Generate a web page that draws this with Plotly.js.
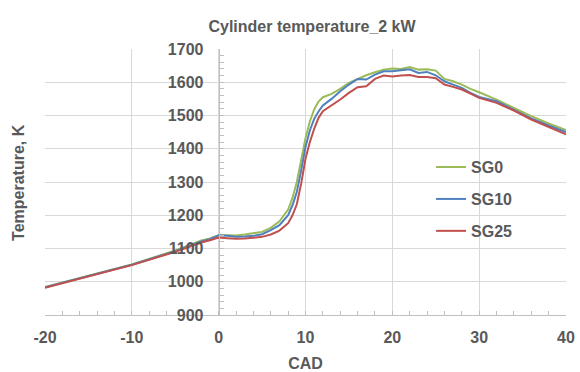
<!DOCTYPE html>
<html>
<head>
<meta charset="utf-8">
<script src="https://cdn.plot.ly/plotly-3.0.1.min.js"></script>
<style>html,body{margin:0;padding:0;background:#fff;}#chart{width:580px;height:372px;}</style>
</head>
<body>
<div id="chart"></div>
<script>
var cad  = [-20,-15,-10,-5,-3,-2,-1,0,1,2,3,4,5,6,7,8,8.5,9,9.5,10,10.5,11,11.5,12,13,14,15,16,17,18,19,20,21,22,23,24,25,26,27,28,29,30,32,34,36,38,40];
var sg0  = [984,1018,1052,1094,1115,1124,1130,1140,1140,1139,1142,1145,1150,1162,1182,1217,1252,1300,1362,1432,1482,1518,1542,1555,1565,1580,1598,1610,1621,1630,1638,1641,1640,1646,1638,1639,1635,1610,1603,1593,1580,1570,1548,1523,1498,1476,1456];
var sg10 = [983,1017,1051,1092,1112,1121,1128,1140,1138,1135,1136,1138,1143,1155,1170,1200,1230,1270,1335,1405,1455,1490,1512,1530,1550,1573,1593,1610,1608,1623,1633,1633,1636,1639,1628,1631,1621,1603,1593,1583,1568,1556,1543,1518,1491,1470,1450];
var sg25 = [982,1016,1050,1090,1110,1118,1125,1133,1131,1129,1130,1132,1135,1142,1154,1176,1200,1233,1295,1370,1420,1460,1493,1513,1530,1548,1568,1585,1588,1610,1620,1617,1620,1622,1616,1616,1612,1593,1586,1578,1566,1553,1538,1515,1488,1465,1443];
var seriesNames = ['SG0','SG10','SG25'];
var xTicks = [-20,-10,0,10,20,30,40];
var xTickText = ['-20','-10','0','10','20','30','40'];
var yTicks = [900,1000,1100,1200,1300,1400,1500,1600,1700];

var FONT = 'Liberation Sans, Arial, sans-serif';
var TXT = '#595959';
var colors = ['#9bbb59','#4f81bd','#c0504d'];
var vals = [sg0, sg10, sg25];
var legends = ['legend','legend2','legend3'];

var traces = vals.map(function(v,i){
  return {x: cad, y: v, type:'scatter', mode:'lines', name: seriesNames[i],
    line:{color:colors[i], width:2}, legend: legends[i]};
});

function legendAt(yc){
  return {x:0.741, xanchor:'left', y:yc, yanchor:'middle', bgcolor:'rgba(0,0,0,0)',
    font:{family:FONT, size:16, color:TXT, weight:'bold'}, borderwidth:0};
}

var layout = {
  width:580, height:372,
  margin:{l:45, r:14, t:49, b:57},
  paper_bgcolor:'#ffffff', plot_bgcolor:'#ffffff',
  showlegend:true,
  title:{text:'Cylinder temperature_2 kW', font:{family:FONT, size:16, color:TXT, weight:'bold'},
    x:0.538, xanchor:'center', xref:'container', y:0.930, yanchor:'middle', yref:'container'},
  xaxis:{range:[-20,40], tickvals:xTicks, ticktext:xTickText, showgrid:true, gridcolor:'#d9d9d9', gridwidth:1,
    zeroline:false, showline:true, linecolor:'#bfbfbf', linewidth:1,
    ticks:'inside', ticklen:4, tickcolor:'#bfbfbf', ticklabelstandoff:8,
    minor:{dtick:2, tick0:0, ticks:'inside', ticklen:4, tickcolor:'#bfbfbf', showgrid:false},
    tickfont:{family:FONT, size:16, color:TXT, weight:'bold'},
    title:{text:'CAD', font:{family:FONT, size:16, color:TXT, weight:'bold'}, standoff:12}},
  yaxis:{range:[900,1700], tickvals:yTicks, anchor:'free', position:1/3,
    showgrid:true, gridcolor:'#d9d9d9', gridwidth:1, zeroline:false,
    showline:true, linecolor:'#bfbfbf', linewidth:1,
    ticks:'inside', ticklen:4, tickcolor:'#bfbfbf',
    minor:{dtick:20, tick0:900, ticks:'inside', ticklen:4, tickcolor:'#bfbfbf', showgrid:false},
    tickfont:{family:FONT, size:16, color:TXT, weight:'bold'}, ticklabelstandoff:12},
  legend: legendAt(0.556),
  legend2: legendAt(0.436),
  legend3: legendAt(0.316),
  annotations:[{text:'Temperature, K', xref:'paper', yref:'paper', x:-0.052, y:0.5,
    xanchor:'center', yanchor:'middle', textangle:-90, showarrow:false,
    font:{family:FONT, size:16, color:TXT, weight:'bold'}}]
};

Plotly.newPlot('chart', traces, layout, {displayModeBar:false, staticPlot:true});
</script>
</body>
</html>
